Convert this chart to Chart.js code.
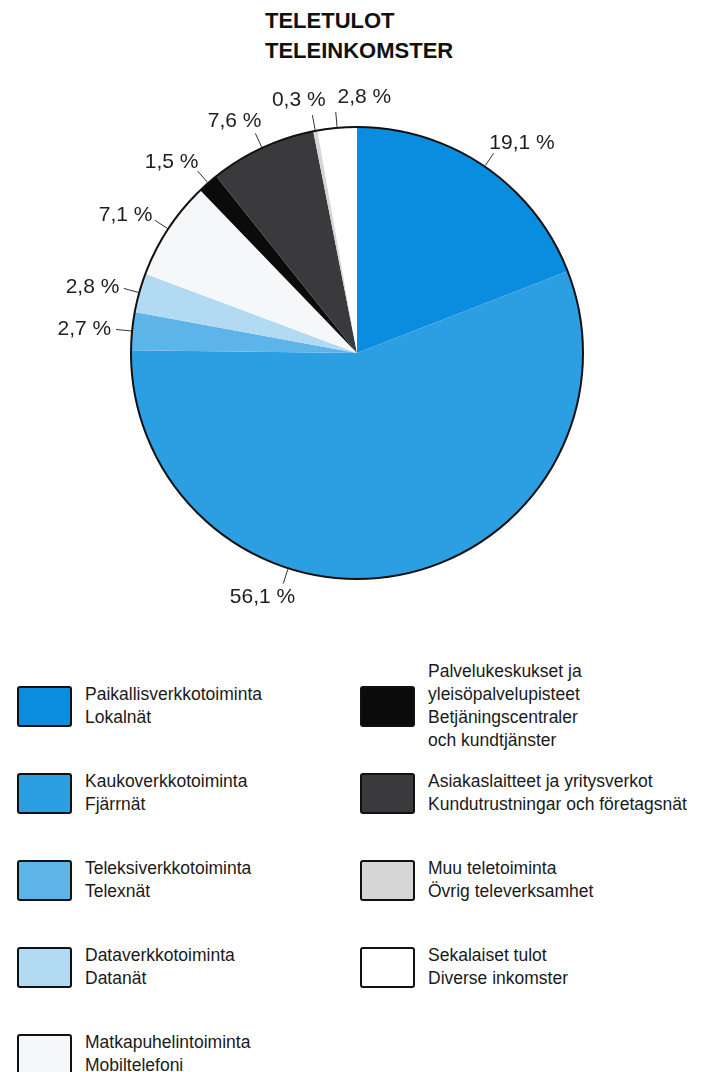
<!DOCTYPE html>
<html>
<head>
<meta charset="utf-8">
<script src="https://cdn.jsdelivr.net/npm/chart.js@4/dist/chart.umd.min.js"></script>
<style>
  body { margin: 0; background: #fff; }
  #page { position: relative; width: 717px; height: 1072px; overflow: hidden; font-family: "Liberation Sans", Arial, sans-serif; color: #1a1a1a; }
  #title { position: absolute; left: 265px; top: 6px; font-weight: bold; font-size: 22px; line-height: 30px; color: #111; }
  #pie { position: absolute; left: 0; top: 0; }
  .item { position: absolute; display: flex; align-items: center; }
  .swatch { width: 51px; height: 37px; border: 2.5px solid #111; border-radius: 3px; flex: none; }
  .text { margin-left: 13px; font-size: 17.5px; line-height: 23px; white-space: pre-line; }
</style>
</head>
<body>
<div id="page">
  <div id="title">TELETULOT<br>TELEINKOMSTER</div>
  <canvas id="pie" width="717" height="650"></canvas>
  <div id="legend"></div>
</div>
<script>
// categories, clockwise from 12 o'clock
const categoriesFi = [
  "Paikallisverkkotoiminta",
  "Kaukoverkkotoiminta",
  "Teleksiverkkotoiminta",
  "Dataverkkotoiminta",
  "Matkapuhelintoiminta",
  "Palvelukeskukset ja\nyleisöpalvelupisteet",
  "Asiakaslaitteet ja yritysverkot",
  "Muu teletoiminta",
  "Sekalaiset tulot",
];
const categoriesSv = [
  "Lokalnät",
  "Fjärrnät",
  "Telexnät",
  "Datanät",
  "Mobiltelefoni",
  "Betjäningscentraler\noch kundtjänster",
  "Kundutrustningar och företagsnät",
  "Övrig televerksamhet",
  "Diverse inkomster",
];
const shares = [19.1, 56.1, 2.7, 2.8, 7.1, 1.5, 7.6, 0.3, 2.8];
const colors = ["#0b8ddf", "#2c9ee2", "#5cb4e9", "#b2dbf3", "#f5f7f9", "#0b0b0b", "#3a3a3d", "#d6d6d6", "#ffffff"];

const fmt = (v) => v.toFixed(1).replace(".", ",") + " %";

// outer ring + percent labels with short leader lines
const pieLabels = {
  id: "pieLabels",
  afterDatasetsDraw(chart, args, opts) {
    const ctx = chart.ctx;
    const arcs = chart.getDatasetMeta(0).data;
    const first = arcs[0].getProps(["x", "y", "outerRadius"], true);

    ctx.save();
    ctx.beginPath();
    ctx.arc(first.x, first.y, first.outerRadius, 0, Math.PI * 2);
    ctx.lineWidth = 2;
    ctx.strokeStyle = "#111";
    ctx.stroke();

    ctx.font = opts.font;
    const h = 20;
    const items = arcs.map((arc, i) => {
      const p = arc.getProps(["x", "y", "startAngle", "endAngle", "outerRadius"], true);
      const a = (p.startAngle + p.endAngle) / 2 + (opts.nudge[i] || 0) * Math.PI / 180;
      const c = Math.cos(a), s = Math.sin(a);
      const r = p.outerRadius;
      const text = fmt(chart.data.datasets[0].data[i]);
      const w = ctx.measureText(text).width;
      const ex = p.x + c * (r + 16), ey = p.y + s * (r + 16);
      return {
        text, w,
        x0: p.x + c * (r + 1), y0: p.y + s * (r + 1), ex, ey,
        cx: ex + Math.sign(c) * Math.sqrt(Math.abs(c)) * (w / 2 + 5),
        cy: ey + Math.sign(s) * s * s * (h / 2 + 5),
      };
    });

    // shift later labels clear of earlier ones
    for (let i = 0; i < items.length; i++) {
      for (let j = i + 1; j < items.length; j++) {
        const A = items[i], B = items[j];
        if (Math.abs(A.cy - B.cy) >= h) continue;
        const need = (A.w + B.w) / 2 + 12 - Math.abs(A.cx - B.cx);
        if (need > 0) B.cx += (B.cx >= A.cx ? 1 : -1) * need;
      }
    }

    ctx.lineWidth = 1;
    ctx.strokeStyle = "#333";
    ctx.fillStyle = "#1e1e1e";
    ctx.textAlign = "center";
    ctx.textBaseline = "middle";
    items.forEach((it) => {
      ctx.beginPath();
      ctx.moveTo(it.x0, it.y0);
      ctx.lineTo(it.ex, it.ey);
      ctx.stroke();
      ctx.fillText(it.text, it.cx, it.cy);
    });
    ctx.restore();
  },
};

new Chart(document.getElementById("pie"), {
  type: "pie",
  data: {
    labels: categoriesFi,
    datasets: [{
      data: shares,
      backgroundColor: colors,
      borderWidth: 0,
    }],
  },
  options: {
    responsive: false,
    animation: false,
    devicePixelRatio: 1,
    layout: { padding: { left: 131, right: 134, top: 127, bottom: 71 } },
    plugins: {
      legend: { display: false },
      tooltip: { enabled: false },
      pieLabels: { font: "21px 'Liberation Sans', Arial, sans-serif", nudge: { 1: 28 } },
    },
  },
  plugins: [pieLabels],
});

// legend in two columns: 5 items left, 4 right
const legend = document.getElementById("legend");
categoriesFi.forEach((fi, i) => {
  const col = i < 5 ? 0 : 1;
  const row = col === 0 ? i : i - 5;
  const el = document.createElement("div");
  el.className = "item";
  el.style.left = (col === 0 ? 17 : 360) + "px";
  el.style.top = (685 + row * 87) + "px";
  el.style.height = "42px";
  const sw = document.createElement("div");
  sw.className = "swatch";
  sw.style.background = colors[i];
  const tx = document.createElement("div");
  tx.className = "text";
  tx.textContent = fi + "\n" + categoriesSv[i];
  el.appendChild(sw);
  el.appendChild(tx);
  legend.appendChild(el);
});
</script>
</body>
</html>
